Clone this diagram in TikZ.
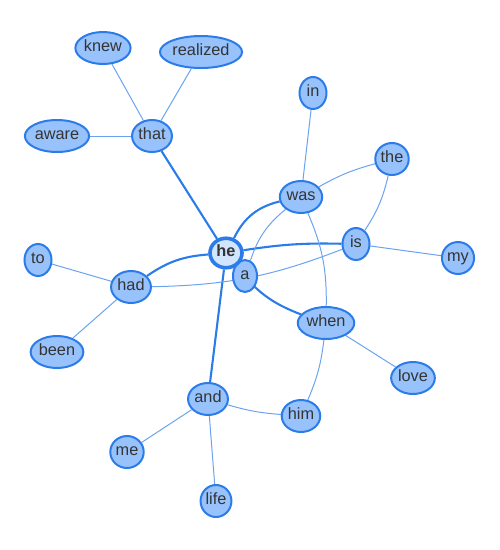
\documentclass[tikz,border=0pt]{standalone}
\usepackage{fontspec}
\setmainfont{Liberation Sans}
\usetikzlibrary{shapes.geometric, backgrounds}

\definecolor{wordfill}{HTML}{97C2FC}
\definecolor{wordline}{HTML}{2B7CE9}
\definecolor{hubfill}{HTML}{D2E5FF}
\definecolor{wordtext}{HTML}{343434}

\begin{document}
\begin{tikzpicture}[
    x=1pt, y=-1pt,
    word/.style={
        ellipse,
        draw=wordline,
        fill=wordfill,
        line width=2pt,
        text=wordtext,
        font=\fontsize{16.3}{18}\selectfont,
        inner xsep=0.5pt,
        inner ysep=0pt,
        text height=11.5pt,
        text depth=4pt,
        minimum width=27pt,
        minimum height=32pt
    },
    hub/.style={
        word,
        fill=hubfill,
        line width=3.6pt,
        font=\fontsize{16.3}{18}\selectfont\bfseries,
        minimum width=32pt,
        minimum height=29.5pt
    },
    link/.style={draw=wordline!70!white, line width=1pt},
    strong/.style={draw=wordline, line width=2.1pt}
]

\useasboundingbox (0,0) rectangle (500,550);

\node[word] (knew) at (103,48) {knew};
\node[word] (realized) at (201,52) {realized};
\node[word] (aware) at (57,136) {aware};
\node[word] (that) at (152,136) {that};
\node[word] (in) at (313,93) {in};
\node[word] (the) at (392,159) {the};
\node[word] (was) at (301,197) {was};
\node[word] (is) at (356,244) {is};
\node[word] (my) at (458,258) {my};
\node[word] (to) at (38,260) {to};
\node[word] (had) at (131,287) {had};
\node[word, minimum width=24pt] (a) at (245,276) {a};
\node[hub] (he) at (226,253) {he};
\node[word] (when) at (326,323) {when};
\node[word] (been) at (57,352) {been};
\node[word] (love) at (413,378) {love};
\node[word] (and) at (208,399) {and};
\node[word] (him) at (301,416) {him};
\node[word] (me) at (127,452) {me};
\node[word] (life) at (216,501) {life};

\begin{scope}[on background layer]
    % edges of the selected word
    \draw[strong] (he) -- (that);
    \draw[strong] (he) to[bend left=25] (was);
    \draw[strong] (he) to[bend left=5] (is);
    \draw[strong] (he) to[bend right=15] (had);
    \draw[strong] (he) to[bend right=16] (when);
    \draw[strong] (he) -- (and);

    % other edges
    \draw[link] (that) -- (knew);
    \draw[link] (that) -- (realized);
    \draw[link] (that) -- (aware);
    \draw[link] (was) -- (in);
    \draw[link] (was) to[bend left=7] (the);
    \draw[link] (was) to[bend right=16] (a);
    \draw[link] (was) to[bend left=12] (when);
    \draw[link] (the) to[bend left=10] (is);
    \draw[link] (is) -- (my);
    \draw[link] (had) to[bend right=10] (is);
    \draw[link] (had) -- (to);
    \draw[link] (had) -- (been);
    \draw[link] (when) -- (love);
    \draw[link] (when) to[bend left=8] (him);
    \draw[link] (and) to[bend right=6] (him);
    \draw[link] (and) -- (me);
    \draw[link] (and) -- (life);
\end{scope}

\end{tikzpicture}
\end{document}
